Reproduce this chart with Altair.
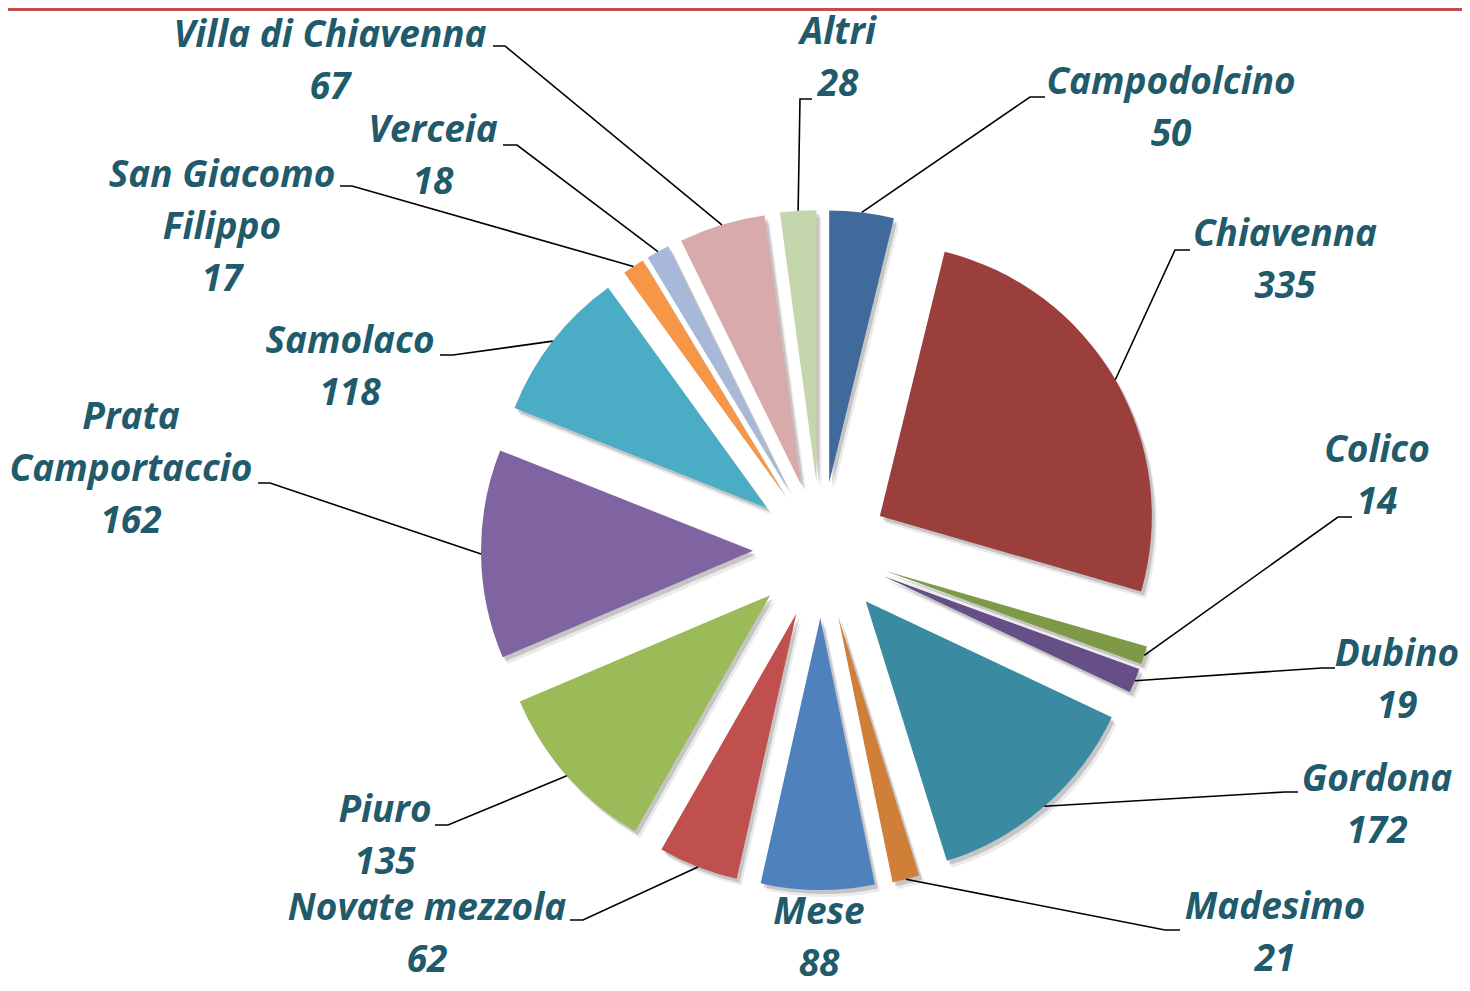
import numpy as np
import pandas as pd
import altair as alt

# ---- data ----
comuni = ["Campodolcino", "Chiavenna", "Colico", "Dubino", "Gordona", "Madesimo",
          "Mese", "Novate mezzola", "Piuro", "Prata Camportaccio", "Samolaco",
          "San Giacomo Filippo", "Verceia", "Villa di Chiavenna", "Altri"]
valori = [50, 335, 14, 19, 172, 21, 88, 62, 135, 162, 118, 17, 18, 67, 28]
colori = ["#406A9B", "#9B3F3D", "#7E9A47", "#664E86", "#3A8BA1", "#D07F38",
          "#4F81BD", "#C0504D", "#9BBB59", "#8064A2", "#4BACC6", "#F79646",
          "#A8B8D8", "#D9AAAA", "#C5D6AC"]
righe_nome = {"Prata Camportaccio": ["Prata", "Camportaccio"],
              "San Giacomo Filippo": ["San Giacomo", "Filippo"]}

# ---- layout (page pixels of the reference; chart origin is at 8,8) ----
ORIG = 8
CX, CY = 821 - ORIG, 550 - ORIG
R = 272
ESPLOSO = 68
LINE_H = 52
# label block centre x, first line y
etich_x = [1171, 1285, 1377, 1397, 1377, 1275, 819, 427, 385, 131, 350, 222, 433, 330, 838]
etich_y = [83, 235, 451, 655, 780, 908, 913, 909, 811, 418, 342, 176, 131, 36, 33]
# leader elbow point and tail end point (None = no leader)
gomito = [(1030, 97), (1175, 250), (1338, 517), (1322, 668), (1285, 792), (1165, 930),
          None, (583, 920), (448, 825), (270, 483), (453, 355), (352, 186), (517, 145),
          (505, 46), (800, 99)]
coda = [(1045, 97), (1190, 250), (1352, 517), (1335, 668), (1298, 792), (1180, 930),
        None, (570, 920), (435, 825), (258, 483), (440, 355), (340, 186), (503, 145),
        (493, 46), (812, 99)]

# ---- derived tables ----
v = np.array(valori, dtype=float)
cum = np.cumsum(v)
t0 = 2 * np.pi * (cum - v) / v.sum()
t1 = 2 * np.pi * cum / v.sum()
mid = (t0 + t1) / 2

fette = pd.DataFrame({
    "comune": comuni, "valore": valori, "t0": t0, "t1": t1,
    "cx": CX + ESPLOSO * np.sin(mid), "cy": CY - ESPLOSO * np.cos(mid),
})
fette["sx1"] = fette["cx"] + 3
fette["sy1"] = fette["cy"] + 4
fette["sx2"] = fette["cx"] + 5
fette["sy2"] = fette["cy"] + 7

righe_lead = []
for i, c in enumerate(comuni):
    if gomito[i] is None:
        continue
    pts = [(CX + (R + ESPLOSO) * np.sin(mid[i]), CY - (R + ESPLOSO) * np.cos(mid[i])),
           (gomito[i][0] - ORIG, gomito[i][1] - ORIG),
           (coda[i][0] - ORIG, coda[i][1] - ORIG)]
    for k, (px, py) in enumerate(pts):
        righe_lead.append({"comune": c, "ordine": k, "px": px, "py": py})
leader = pd.DataFrame(righe_lead)

righe_testo = []
for i, c in enumerate(comuni):
    linee = righe_nome.get(c, [c]) + [str(valori[i])]
    for k, t in enumerate(linee):
        righe_testo.append({"testo": t, "lx": etich_x[i] - ORIG,
                            "ly": etich_y[i] - ORIG + k * LINE_H})
testi = pd.DataFrame(righe_testo)

W, H = 1454, 975

def arc_layer(xf, yf, **mk):
    return alt.Chart(fette).mark_arc(**mk).encode(
        x=alt.X(f"{xf}:Q", scale=None, axis=None),
        y=alt.Y(f"{yf}:Q", scale=None, axis=None),
        theta=alt.Theta("t0:Q", scale=None),
        theta2=alt.Theta2("t1"),
        radius=alt.value(R),
    )

ombra2 = arc_layer("sx2", "sy2", color="#000000", opacity=0.08)
ombra1 = arc_layer("sx1", "sy1", color="#000000", opacity=0.16)
spicchi = arc_layer("cx", "cy").encode(
    color=alt.Color("comune:N", scale=alt.Scale(domain=comuni, range=colori), legend=None)
)

linee = alt.Chart(leader).mark_line(color="black", strokeWidth=1.6).encode(
    x=alt.X("px:Q", scale=None, axis=None),
    y=alt.Y("py:Q", scale=None, axis=None),
    detail="comune:N",
    order="ordine:Q",
)

etichette = alt.Chart(testi).mark_text(
    font="Open Sans", fontSize=37, fontWeight="bold", fontStyle="italic",
    color="#215A6A", align="center", baseline="middle",
).encode(
    x=alt.X("lx:Q", scale=None, axis=None),
    y=alt.Y("ly:Q", scale=None, axis=None),
    text="testo:N",
)

barra = alt.Chart(pd.DataFrame({"k": [0]})).mark_rect(color="#C0504D").encode(
    x=alt.value(0), x2=alt.value(W), y=alt.value(0), y2=alt.value(3)
)

chart = alt.layer(ombra2, ombra1, spicchi, linee, etichette, barra).properties(
    width=W, height=H, autosize=alt.AutoSizeParams(type="none"), padding=0
).configure_view(strokeWidth=0)

chart.save("out.html", embed_options={"renderer": "svg", "actions": False})
